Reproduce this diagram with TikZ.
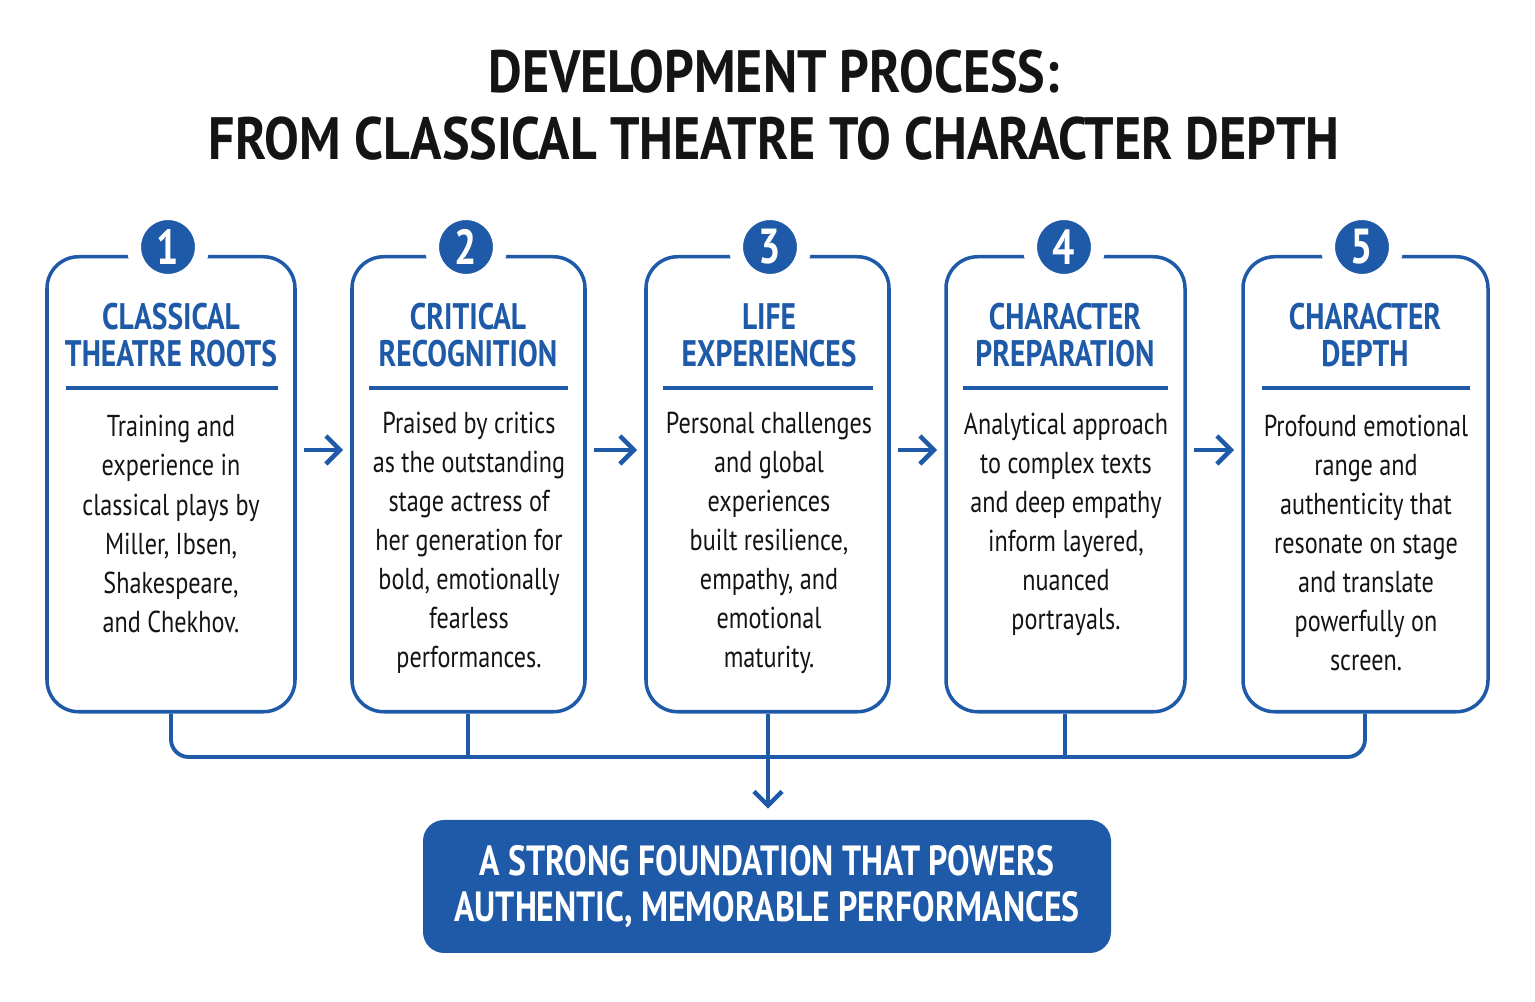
\documentclass[tikz,border=0pt]{standalone}
\usepackage{fontspec}
\setmainfont{PT Sans}
\newfontfamily\cond[FakeStretch=0.80]{PT Sans}
\newfontfamily\condwide[FakeStretch=0.87]{PT Sans}
\usetikzlibrary{positioning,arrows.meta}
\definecolor{stepblue}{HTML}{1E5AA8}
\definecolor{inkdark}{HTML}{141414}
\tikzset{
  stepbox/.style={draw=stepblue,line width=1pt,rounded corners=9pt,minimum width=#1,minimum height=4.55cm,anchor=north},
  stepnum/.style={circle,fill=stepblue,draw=white,line width=4pt,minimum size=0.68cm,text=white,font=\cond\bfseries\fontsize{14}{14}\selectfont,inner sep=0pt},
  steptitle/.style={text=stepblue,font=\cond\bfseries\fontsize{10.5}{10.6}\selectfont,align=center},
  stepbody/.style={text=inkdark,font=\cond\fontsize{8.6}{11.1}\selectfont,align=center},
  flow/.style={draw=stepblue,line width=1.1pt},
  flowarrow/.style={flow,-{Straight Barb[length=4pt,width=8pt,line width=1.3pt]}}
}
\begin{document}
\begin{tikzpicture}[x=1cm,y=1cm]
  \useasboundingbox[fill=white] (0,0) rectangle (15.35,10.02);

  % title
  \node[text=inkdark,font=\condwide\bfseries\fontsize{17}{19}\selectfont,align=center] (title) at (7.74,8.97)
    {DEVELOPMENT PROCESS:\\FROM CLASSICAL THEATRE TO CHARACTER DEPTH};

  % boxes
  \node[stepbox=2.48cm] (b1) at (1.71,7.47) {};
  \node[stepbox=2.33cm] (b2) at (4.685,7.47) {};
  \node[stepbox=2.43cm] (b3) at (7.675,7.47) {};
  \node[stepbox=2.39cm] (b4) at (10.655,7.47) {};
  \node[stepbox=2.45cm] (b5) at (13.655,7.47) {};

  % numbers
  \node[stepnum] (n1) at (1.68,7.55) {1};
  \node[stepnum] (n2) at (4.66,7.55) {2};
  \node[stepnum] (n3) at (7.70,7.55) {3};
  \node[stepnum] (n4) at (10.64,7.55) {4};
  \node[stepnum] (n5) at (13.62,7.55) {5};

  % titles
  \node[steptitle] (t1) at (1.71,6.67) {CLASSICAL\\THEATRE ROOTS};
  \node[steptitle] (t2) at (4.68,6.67) {CRITICAL\\RECOGNITION};
  \node[steptitle] (t3) at (7.69,6.67) {LIFE\\EXPERIENCES};
  \node[steptitle] (t4) at (10.65,6.67) {CHARACTER\\PREPARATION};
  \node[steptitle] (t5) at (13.65,6.67) {CHARACTER\\DEPTH};

  % separators
  \foreach \b/\l/\r in {1/0.66/2.78,2/3.69/5.68,3/6.63/8.73,4/9.63/11.68,5/12.62/14.70}
    \draw[stepblue,line width=0.9pt] (\l,6.14) -- (\r,6.14);

  % bodies
  \node[stepbody] (d1) at (1.71,4.78) {Training and\\experience in\\classical plays by\\Miller, Ibsen,\\Shakespeare,\\and Chekhov.};
  \node[stepbody] (d2) at (4.69,4.59) {Praised by critics\\as the outstanding\\stage actress of\\her generation for\\bold, emotionally\\fearless\\performances.};
  \node[stepbody] (d3) at (7.69,4.59) {Personal challenges\\and global\\experiences\\built resilience,\\empathy, and\\emotional\\maturity.};
  \node[stepbody] (d4) at (10.66,4.78) {Analytical approach\\to complex texts\\and deep empathy\\inform layered,\\nuanced\\portrayals.};
  \node[stepbody] (d5) at (13.66,4.59) {Profound emotional\\range and\\authenticity that\\resonate on stage\\and translate\\powerfully on\\screen.};

  % arrows between steps
  \draw[flowarrow] ([xshift=2pt]b1.east |- 0,5.52) -- ([xshift=-2pt]b2.west |- 0,5.52);
  \draw[flowarrow] ([xshift=2pt]b2.east |- 0,5.52) -- ([xshift=-2pt]b3.west |- 0,5.52);
  \draw[flowarrow] ([xshift=2pt]b3.east |- 0,5.52) -- ([xshift=-2pt]b4.west |- 0,5.52);
  \draw[flowarrow] ([xshift=2pt]b4.east |- 0,5.52) -- ([xshift=-2pt]b5.west |- 0,5.52);

  % bottom result
  \node[fill=stepblue,rounded corners=6pt,minimum width=6.88cm,minimum height=1.33cm,
        text=white,font=\cond\bfseries\fontsize{12}{13.3}\selectfont,align=center] (res) at (7.67,1.155)
    {A STRONG FOUNDATION THAT POWERS\\AUTHENTIC, MEMORABLE PERFORMANCES};

  % collecting lines
  \coordinate (bus) at (0,2.45);
  \draw[flow,rounded corners=5pt] (b1.south -| 1.71,0) |- (bus -| 7.68,0) -| (b5.south -| 13.65,0);
  \draw[flow] (b2.south -| 4.68,0) -- (bus -| 4.68,0);
  \draw[flow] (b4.south -| 10.65,0) -- (bus -| 10.65,0);
  \draw[flowarrow] (b3.south -| 7.68,0) -- ([yshift=3pt]res.north -| 7.68,0);
\end{tikzpicture}
\end{document}
